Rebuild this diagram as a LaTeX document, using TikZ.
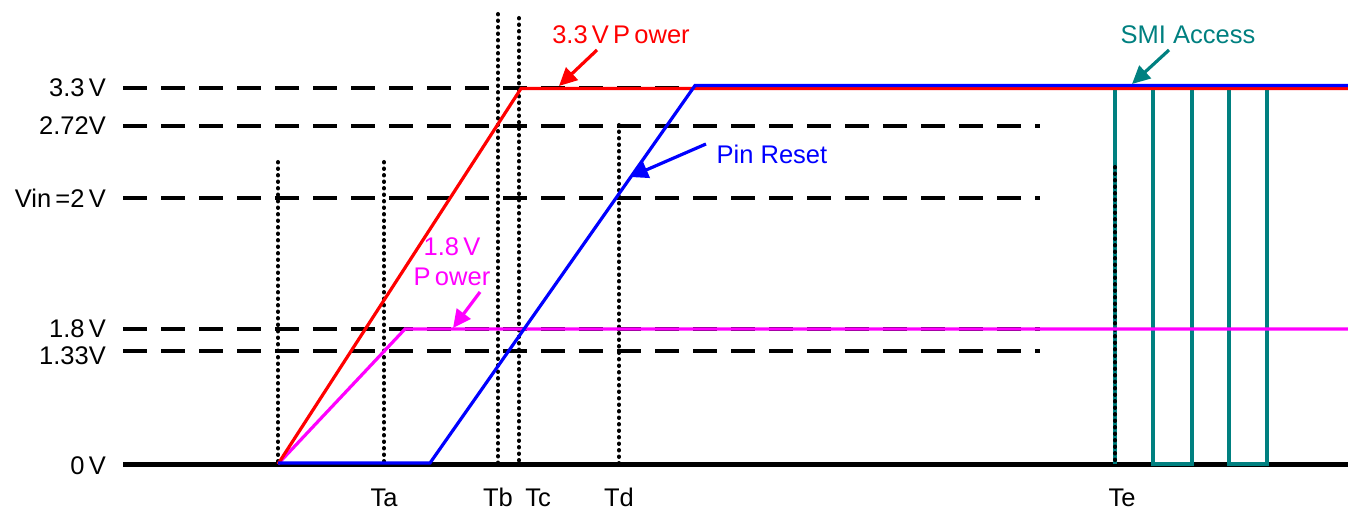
\documentclass[tikz,border=0pt]{standalone}
\usepackage{fontspec}
\setmainfont{Liberation Sans}
\usetikzlibrary{arrows.meta}
\definecolor{tealc}{RGB}{0,128,128}
\definecolor{magc}{RGB}{255,0,255}
\tikzset{
  lvl/.style={line width=4pt, dash pattern=on 24pt off 14pt, black},
  dotv/.style={line width=4pt, line cap=round, dash pattern=on 0.5pt off 6pt, black},
  sig/.style={line width=3.2pt},
  lab/.style={font=\fontsize{25.5}{30}\selectfont, inner sep=0pt},
  tlab/.style={lab, anchor=base},
  callout/.style={line width=3.2pt, -{Triangle[length=18pt,width=17pt]}},
}
\begin{document}
\begin{tikzpicture}[x=1pt,y=-1pt]
\useasboundingbox (0,0) rectangle (1348,510);
% level lines
\foreach \yy in {88,126,198,329,351}{
  \draw[lvl] (123,\yy) -- (1040,\yy);
}
% dotted verticals
\draw[dotv] (278,162) -- (278,464);
\draw[dotv] (384,162) -- (384,464);
\draw[dotv] (498,14) -- (498,464);
\draw[dotv] (519,18) -- (519,464);
\draw[dotv] (619,125) -- (619,464);
% baseline
\draw[line width=5pt, black] (123,464) -- (1348,464);
% SMI access
\draw[sig, tealc] (1115,464) -- (1115,88) -- (1153,88) -- (1153,464) -- (1192,464) -- (1192,88) -- (1229,88) -- (1229,464) -- (1267,464) -- (1267,88) -- (1307,88);
\draw[dotv] (1115,167) -- (1115,464);
% signals
\draw[sig, magc] (278,464) -- (405,329) -- (1348,329);
\draw[sig, red] (278,464) -- (521,88.5) -- (1348,88.5);
\draw[sig, blue] (278,463) -- (430,463) -- (695,85.5) -- (1348,85.5);
% axis labels
\node[lab, anchor=east] (l33) at (106,88) {3.3\,V};
\node[lab, anchor=east] (l272) at (106,126) {2.72V};
\node[lab, anchor=east] (lvin) at (106,198) {Vin\,=2\,V};
\node[lab, anchor=east] (l18) at (106,329) {1.8\,V};
\node[lab, anchor=east] (l133) at (106,356) {1.33V};
\node[lab, anchor=east] (l0) at (106,466) {0\,V};
% time labels
\node[tlab] (ta) at (384,506) {Ta};
\node[tlab] (tb) at (498,506) {Tb};
\node[tlab] (tc) at (538,506) {Tc};
\node[tlab] (td) at (619,506) {Td};
\node[tlab] (te) at (1122,506) {Te};
% callouts
\node[lab, red] (p33) at (621,35) {3.3\,V\,P\,ower};
\coordinate (p33t) at (559,86);
\draw[callout, red] (597,50) -- (p33t);
\node[lab, blue] (pr) at (772,154) {Pin Reset};
\coordinate (prt) at (630,177);
\draw[callout, blue] (706,144) -- (prt);
\node[lab, magc, align=center] (p18) at (452,262) {1.8\,V\\P\,ower};
\coordinate (p18t) at (453,328);
\draw[callout, magc] (480,292) -- (p18t);
\node[lab, tealc] (smi) at (1188,35) {SMI Access};
\coordinate (smit) at (1132,84);
\draw[callout, tealc] (1169,50) -- (smit);
\end{tikzpicture}
\end{document}
